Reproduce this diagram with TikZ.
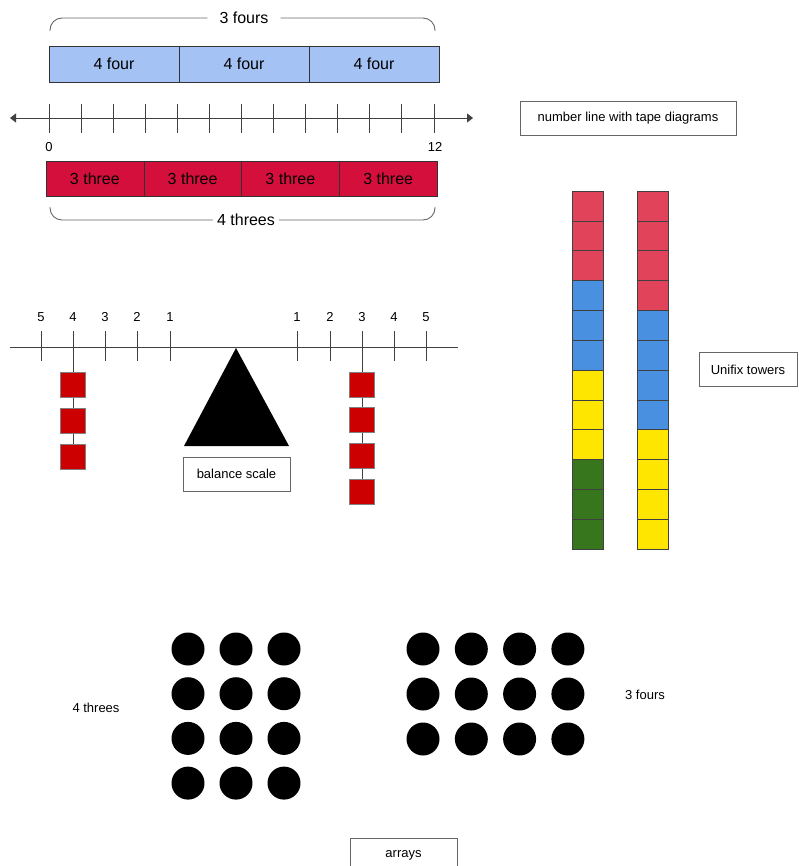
\documentclass[tikz,border=0pt]{standalone}
\usepackage{fontspec}
\setmainfont{Liberation Sans}
\usetikzlibrary{positioning,arrows.meta,backgrounds}
\definecolor{tapeblue}{HTML}{A4C2F4}
\definecolor{tapered}{HTML}{D50F3C}
\definecolor{cubered}{HTML}{E0435A}
\definecolor{cubeblue}{HTML}{4A90E0}
\definecolor{cubeyellow}{HTML}{FFE600}
\definecolor{cubegreen}{HTML}{38761D}
\definecolor{wgtred}{HTML}{CC0000}
\newcommand{\bigtxt}{\fontsize{16}{18}\selectfont}
\newcommand{\smalltxt}{\fontsize{13}{15}\selectfont}
\tikzset{
  tapeB/.style={rectangle,draw=black!80,fill=tapeblue,minimum width=130pt,minimum height=36pt,inner sep=0pt,outer sep=0pt,font=\bigtxt},
  tapeR/.style={rectangle,draw=black!80,fill=tapered,minimum width=97.75pt,minimum height=35pt,inner sep=0pt,outer sep=0pt,font=\bigtxt},
  bracetxt/.style={fill=white,inner ysep=1pt,font=\bigtxt},
  brace/.style={draw=black!60,line width=0.9pt,rounded corners=12pt},
  tag/.style={rectangle,draw=black!60,fill=white,minimum height=34pt,inner sep=0pt,font=\smalltxt},
  tick/.style={draw=black!75,line width=0.9pt},
  cube/.style={rectangle,draw=black!75,minimum width=31pt,minimum height=29.83pt,inner sep=0pt},
  wgt/.style={rectangle,draw=black!50,fill=wgtred,minimum size=25pt,inner sep=0pt},
  dot/.style={circle,fill=black,minimum size=33pt,inner sep=0pt},
  num/.style={font=\smalltxt,inner sep=0pt},
}

\begin{document}
\begin{tikzpicture}[x=1pt,y=-1pt,>={Triangle[length=6pt,width=9pt]}]
  \useasboundingbox (0,0) rectangle (798,866);
  \clip (0,0) rectangle (798,866);

  % tape diagrams
  \node[tapeB] (b1) at (114,64) {4 four};
  \node[tapeB] (b2) [right=0pt of b1] {4 four};
  \node[tapeB] (b3) [right=0pt of b2] {4 four};
  \node[tapeR] (r1) at (94.9,178.5) {3 three};
  \node[tapeR] (r2) [right=0pt of r1] {3 three};
  \node[tapeR] (r3) [right=0pt of r2] {3 three};
  \node[tapeR] (r4) [right=0pt of r3] {3 three};

  \node[bracetxt,inner xsep=12pt] (fours) at (244,18) {3 fours};
  \draw[brace] (50,31) |- (fours.west);
  \draw[brace] (435,31) |- (fours.east);
  \node[bracetxt,inner xsep=4pt] (threes) at (246,220) {4 threes};
  \draw[brace] (50,207) |- (threes.west);
  \draw[brace] (435,207) |- (threes.east);

  % number line
  \coordinate (nlL) at (10,118);
  \coordinate (nlR) at (473,118);
  \draw[tick,<->] (nlL) -- (nlR);
  \foreach \i in {0,...,12}
    \draw[tick] ({49+32.08*\i},104) -- ({49+32.08*\i},133);
  \node[num] (n0) at (49,147) {0};
  \node[num] (n12) at (435,147) {12};
  \node[tag,minimum width=216pt] (lblNL) at (628,118) {number line with tape diagrams};

  % balance scale
  \draw[tick] (10,347) -- (458,347);
  \foreach \x/\n in {41/5,73/4,105/3,137/2,170/1,297/1,330/2,362/3,394/4,426/5} {
    \draw[tick] (\x,331) -- (\x,361);
    \node[num] at (\x,317) {\n};
  }
  \fill[black] (236,348) -- (184,446) -- (289,446) -- cycle;
  \node[tag,minimum width=107pt] (lblBal) at (236.5,474) {balance scale};
  \coordinate (hookL) at (73,347);
  \coordinate (hookR) at (362,347);
  \foreach \i in {1,2,3}
    \node[wgt] (wl\i) at (73,{348.5+36*\i}) {};
  \foreach \i in {1,2,3,4}
    \node[wgt] (wr\i) at (362,{348.5+35.7*\i}) {};
  \begin{scope}[on background layer]
    \draw[tick] (hookL) -- (wl3.center);
    \draw[tick] (hookR) -- (wr4.center);
  \end{scope}

  % unifix towers
  \foreach \c [count=\i] in {cubered,cubered,cubered,cubeblue,cubeblue,cubeblue,cubeyellow,cubeyellow,cubeyellow,cubegreen,cubegreen,cubegreen}
    \node[cube,fill=\c] (ua\i) at (587.5,{176.1+29.83*\i}) {};
  \foreach \c [count=\i] in {cubered,cubered,cubered,cubered,cubeblue,cubeblue,cubeblue,cubeblue,cubeyellow,cubeyellow,cubeyellow,cubeyellow}
    \node[cube,fill=\c] (ub\i) at (652.5,{176.1+29.83*\i}) {};
  \node[tag,minimum width=98pt] (lblUni) at (748,369.5) {Unifix towers};

  % arrays
  \foreach \r in {0,...,3}
    \foreach \c in {0,...,2}
      \node[dot] (dl-\r-\c) at ({188+48*\c},{649+44.7*\r}) {};
  \foreach \r in {0,...,2}
    \foreach \c in {0,...,3}
      \node[dot] (dr-\r-\c) at ({423+48.3*\c},{649+45*\r}) {};
  \node[num] (lblThrees) at (96,708) {4 threes};
  \node[num] (lblFours) at (645,695) {3 fours};
  \node[tag,minimum width=107pt] (lblArr) at (403.5,855) {arrays};
\end{tikzpicture}
\end{document}
